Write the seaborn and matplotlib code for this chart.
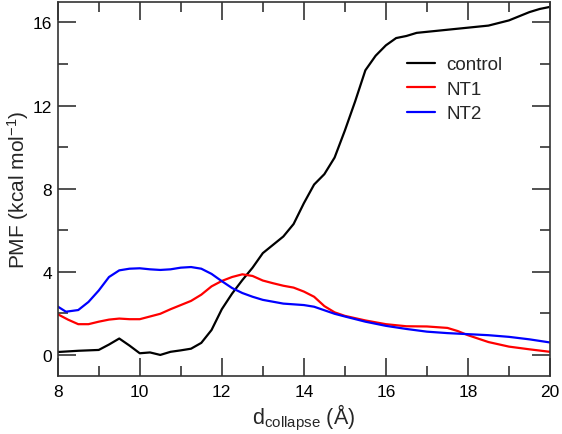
import matplotlib
matplotlib.use("Agg")
import matplotlib.pyplot as plt
import seaborn as sns
import pandas as pd
from matplotlib.ticker import MultipleLocator

control_x = [8.0, 8.5, 9.0, 9.25, 9.5, 9.75, 10.0, 10.25, 10.5, 10.75, 11.0, 11.25, 11.5, 11.75,
             12.0, 12.25, 12.5, 12.75, 13.0, 13.25, 13.5, 13.75, 14.0, 14.25, 14.5, 14.75, 15.0,
             15.25, 15.5, 15.75, 16.0, 16.25, 16.5, 16.75, 17.0, 17.5, 18.0, 18.5, 19.0, 19.25,
             19.5, 19.75, 20.0]
control_y = [0.14, 0.2, 0.24, 0.5, 0.79, 0.45, 0.08, 0.12, 0.0, 0.15, 0.22, 0.3, 0.58, 1.2,
             2.2, 2.95, 3.6, 4.2, 4.9, 5.3, 5.7, 6.3, 7.3, 8.2, 8.7, 9.5, 10.8,
             12.2, 13.7, 14.4, 14.9, 15.25, 15.35, 15.5, 15.55, 15.65, 15.75, 15.85, 16.1, 16.3,
             16.5, 16.65, 16.75]

nt1_x = [8.0, 8.25, 8.5, 8.75, 9.0, 9.25, 9.5, 9.75, 10.0, 10.25, 10.5, 10.75, 11.0, 11.25,
         11.5, 11.75, 12.0, 12.25, 12.5, 12.75, 13.0, 13.25, 13.5, 13.75, 14.0, 14.25, 14.5,
         14.75, 15.0, 15.5, 16.0, 16.5, 17.0, 17.5, 17.75, 18.0, 18.5, 19.0, 19.5, 20.0]
nt1_y = [1.96, 1.7, 1.48, 1.48, 1.6, 1.7, 1.75, 1.72, 1.72, 1.85, 1.98, 2.2, 2.4, 2.6,
         2.9, 3.3, 3.56, 3.75, 3.88, 3.8, 3.58, 3.45, 3.33, 3.24, 3.05, 2.8, 2.35,
         2.05, 1.88, 1.66, 1.48, 1.38, 1.37, 1.3, 1.15, 0.95, 0.62, 0.4, 0.27, 0.15]

nt2_x = [8.0, 8.2, 8.5, 8.75, 9.0, 9.25, 9.5, 9.75, 10.0, 10.25, 10.5, 10.75, 11.0, 11.25,
         11.5, 11.75, 12.0, 12.25, 12.5, 12.75, 13.0, 13.5, 14.0, 14.25, 14.5, 14.75, 15.0,
         15.5, 16.0, 16.5, 17.0, 17.5, 18.0, 18.5, 19.0, 19.5, 20.0]
nt2_y = [2.33, 2.08, 2.16, 2.55, 3.1, 3.75, 4.07, 4.15, 4.17, 4.12, 4.09, 4.12, 4.2, 4.23,
         4.15, 3.9, 3.55, 3.22, 2.98, 2.8, 2.65, 2.47, 2.4, 2.32, 2.15, 1.98, 1.85,
         1.6, 1.4, 1.25, 1.12, 1.05, 1.0, 0.95, 0.87, 0.75, 0.6]

series_names = ["control", "NT1", "NT2"]
series_colors = ["black", "red", "blue"]

df = pd.concat([
    pd.DataFrame({"x": control_x, "y": control_y, "series": "control"}),
    pd.DataFrame({"x": nt1_x, "y": nt1_y, "series": "NT1"}),
    pd.DataFrame({"x": nt2_x, "y": nt2_y, "series": "NT2"}),
], ignore_index=True)

sns.set_theme(style="ticks", rc={
    "xtick.direction": "in", "ytick.direction": "in",
    "xtick.top": True, "ytick.right": True,
    "xtick.major.size": 13, "ytick.major.size": 13,
    "xtick.minor.size": 7, "ytick.minor.size": 7,
    "xtick.major.width": 1.2, "ytick.major.width": 1.2,
    "xtick.minor.width": 1.2, "ytick.minor.width": 1.2,
    "xtick.color": "#333333", "ytick.color": "#333333",
    "xtick.labelcolor": "black", "ytick.labelcolor": "black",
})
plt.rcParams["font.family"] = ["Liberation Sans", "DejaVu Sans"]
plt.rcParams["mathtext.fontset"] = "custom"
plt.rcParams["mathtext.rm"] = "Liberation Sans"
plt.rcParams["mathtext.it"] = "Liberation Sans:italic"
plt.rcParams["mathtext.bf"] = "Liberation Sans:bold"

fig = plt.figure(figsize=(5.62, 4.35), dpi=100)
ax = fig.add_axes([0.1027, 0.134, 0.8759, 0.8598])

sns.lineplot(data=df, x="x", y="y", hue="series", hue_order=series_names,
             palette=dict(zip(series_names, series_colors)), sort=False,
             estimator=None, linewidth=1.6, ax=ax)

ax.set_xlim(8, 20)
ax.set_ylim(-1, 17)
ax.set_yticks([0, 4, 8, 12, 16])
ax.minorticks_on()
ax.xaxis.set_major_locator(MultipleLocator(2))
ax.xaxis.set_minor_locator(MultipleLocator(1))
ax.yaxis.set_minor_locator(MultipleLocator(2))
ax.tick_params(which="both", direction="in", top=True, right=True, bottom=True, left=True)
ax.tick_params(axis="x", which="major", labelsize=12.5, pad=6)
ax.tick_params(axis="y", which="major", labelsize=12.5, pad=4)
for s in ax.spines.values():
    s.set_linewidth(1.2)
    s.set_color("#333333")

ax.set_xlabel(r"d$_{\mathrm{collapse}}$ (Å)", fontsize=15.5, labelpad=2)
ax.set_ylabel(r"PMF (kcal mol$^{\mathrm{-1}}$)", fontsize=15, labelpad=1)

ax.legend(loc="upper left", bbox_to_anchor=(0.69, 0.88), frameon=False, fontsize=13.5,
          handlelength=1.5, handletextpad=0.6, labelspacing=0.4, borderpad=0)

fig.savefig("out.png", dpi=100)
